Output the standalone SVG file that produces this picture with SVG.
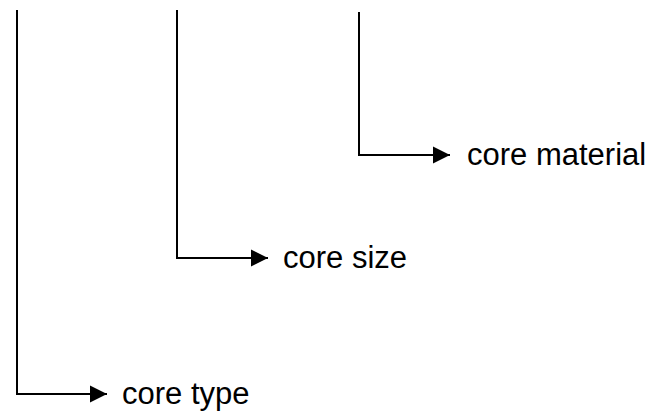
<svg xmlns="http://www.w3.org/2000/svg" width="666" height="414" viewBox="0 0 666 414">
<style>
.c{fill:none;stroke:#000;stroke-width:2}
.t{font-family:"Liberation Sans",Arial,sans-serif;font-size:31px;fill:#000}
</style>
<defs>
<marker id="ah" markerUnits="userSpaceOnUse" markerWidth="18" markerHeight="18" refX="17" refY="9" orient="auto">
<path d="M0,0.5 L17,9 L0,17.5 Z" fill="#000"/>
</marker>
</defs>
<rect width="666" height="414" fill="#fff"/>
<g id="connectors">
<path class="c" d="M17,10 V394 H107" marker-end="url(#ah)"/>
<path class="c" d="M177,10 V258 H268" marker-end="url(#ah)"/>
<path class="c" d="M359,12 V155 H450" marker-end="url(#ah)"/>
</g>
<g id="core-type"><text class="t" x="122" y="404">core type</text></g>
<g id="core-size"><text class="t" x="283" y="268">core size</text></g>
<g id="core-material"><text class="t" x="467" y="165">core material</text></g>
</svg>
